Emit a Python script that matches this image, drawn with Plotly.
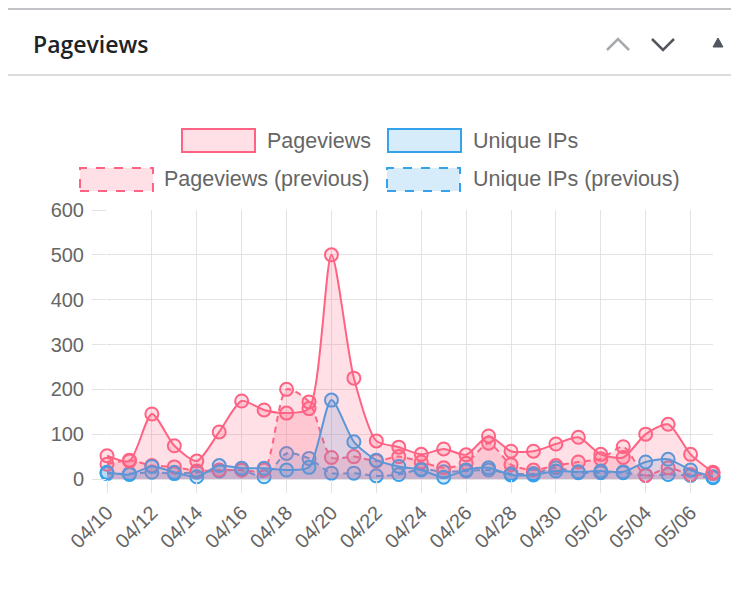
import plotly.graph_objects as go

# ---------------- data ----------------
dates = ["04/10", "04/11", "04/12", "04/13", "04/14", "04/15", "04/16", "04/17",
         "04/18", "04/19", "04/20", "04/21", "04/22", "04/23", "04/24", "04/25",
         "04/26", "04/27", "04/28", "04/29", "04/30", "05/01", "05/02", "05/03",
         "05/04", "05/05", "05/06", "05/07"]
pageviews = [52, 40, 145, 74, 40, 105, 174, 154, 147, 157, 500, 225, 85, 71,
             55, 67, 54, 96, 62, 62, 78, 93, 55, 48, 100, 122, 55, 15]
unique_ips = [15, 10, 28, 15, 5, 30, 24, 24, 20, 26, 176, 83, 42, 28,
              20, 4, 20, 25, 9, 9, 18, 16, 18, 16, 38, 44, 20, 5]
pageviews_prev = [33, 42, 30, 27, 18, 20, 20, 20, 200, 172, 48, 50, 40, 50,
                  38, 25, 35, 80, 32, 20, 30, 38, 45, 72, 8, 25, 10, 12]
unique_ips_prev = [12, 12, 15, 12, 15, 18, 20, 5, 57, 46, 13, 13, 7, 10,
                   22, 16, 18, 20, 12, 12, 25, 14, 14, 14, 8, 10, 8, 3]
series_names = ["Pageviews", "Unique IPs", "Pageviews (previous)", "Unique IPs (previous)"]
y_ticks = [0, 100, 200, 300, 400, 500, 600]
title = "Pageviews"

PINK = "rgb(255,99,132)"
PINK_F = "rgba(255,99,132,0.2)"
BLUE = "rgb(54,162,235)"
BLUE_F = "rgba(54,162,235,0.2)"
FONT = "Liberation Sans, Arial, sans-serif"

# the page body has an 8px margin; work in page pixels and convert
OFF = 8
W, H = 739 - OFF, 596 - OFF
L, R, T, B = 107 - OFF, 713 - OFF, 210 - OFF, 479 - OFF


def px(x):
    return (x - OFF - L) / (R - L)


def py(y):
    return (B - (y - OFF)) / (B - T)


fig = go.Figure()

specs = [
    (series_names[3], unique_ips_prev, BLUE, BLUE_F, "6px,5px"),
    (series_names[2], pageviews_prev, PINK, PINK_F, "6px,5px"),
    (series_names[1], unique_ips, BLUE, BLUE_F, "solid"),
    (series_names[0], pageviews, PINK, PINK_F, "solid"),
]
for name, vals, col, fcol, dash in specs:
    fig.add_trace(go.Scatter(
        x=dates, y=vals, name=name, mode="lines+markers",
        line=dict(color=col, width=2, dash=dash, shape="spline", smoothing=0.7),
        fill="tozeroy", fillcolor=fcol,
        marker=dict(symbol="circle", size=13, color=fcol, line=dict(color=col, width=2)),
        cliponaxis=False, showlegend=False,
    ))

# ---------------- legend (drawn manually) ----------------
shapes = []
annotations = []
legend_items = [
    (series_names[0], 182, 129, PINK, PINK_F, "solid", 265),
    (series_names[1], 388, 129, BLUE, BLUE_F, "solid", 471),
    (series_names[2], 80, 168, PINK, PINK_F, "dash", 162),
    (series_names[3], 387, 168, BLUE, BLUE_F, "dash", 471),
]
for name, bx, by, col, fcol, dash, tx in legend_items:
    shapes.append(dict(type="rect", xref="paper", yref="paper",
                       x0=px(bx), x1=px(bx + 73), y0=py(by + 23), y1=py(by),
                       line=dict(color=col, width=2, dash=dash), fillcolor=fcol, layer="above"))
    annotations.append(dict(text=name, xref="paper", yref="paper", x=px(tx), y=py(by + 11.5),
                            xanchor="left", yanchor="middle", showarrow=False,
                            font=dict(family=FONT, size=21.5, color="#666666")))

# ---------------- widget header ----------------
shapes.append(dict(type="line", xref="paper", yref="paper", x0=px(7), x1=px(745),
                   y0=py(9), y1=py(9), line=dict(color="#c3c4c7", width=2)))
shapes.append(dict(type="line", xref="paper", yref="paper", x0=px(7), x1=px(745),
                   y0=py(75), y1=py(75), line=dict(color="#dcdcde", width=2)))


def path(points, close=False):
    s = "M " + " L ".join(f"{px(a):.5f},{py(b):.5f}" for a, b in points)
    return s + (" Z" if close else "")


shapes.append(dict(type="path", xref="paper", yref="paper",
                   path=path([(607, 50), (618, 39), (629, 50)]),
                   line=dict(color="#a7aaad", width=2.5)))
shapes.append(dict(type="path", xref="paper", yref="paper",
                   path=path([(652, 39), (663, 50), (674, 39)]),
                   line=dict(color="#50575e", width=2.5)))
shapes.append(dict(type="path", xref="paper", yref="paper",
                   path=path([(713, 47), (718, 38), (723, 47)], close=True),
                   line=dict(color="#50575e", width=1), fillcolor="#50575e"))

annotations.append(dict(text=title, xref="paper", yref="paper",
                        x=px(31), y=py(44), xanchor="left", yanchor="middle", showarrow=False,
                        font=dict(family="Open Sans, Noto Sans, sans-serif", size=23,
                                  weight=600, color="#1d2327")))

fig.update_layout(
    width=W, height=H,
    margin=dict(l=L, r=W - R, t=T, b=H - B, autoexpand=False),
    paper_bgcolor="white", plot_bgcolor="white",
    shapes=shapes, annotations=annotations,
    showlegend=False,
    font=dict(family=FONT, size=20, color="#666666"),
)
fig.update_xaxes(
    type="category", range=[0, len(dates) - 1],
    tickvals=dates[::2], ticktext=dates[::2], tickangle=-45,
    showgrid=True, gridcolor="#e3e3e3", gridwidth=1,
    ticks="outside", ticklen=13, tickcolor="#e3e3e3",
    showline=False, zeroline=False,
    tickfont=dict(family=FONT, size=20, color="#666666"),
)
fig.update_yaxes(
    range=[0, 600], tickvals=y_ticks,
    showgrid=True, gridcolor="#e3e3e3", gridwidth=1,
    ticks="outside", ticklen=14, tickcolor="#e3e3e3",
    ticklabelstandoff=4,
    showline=False, zeroline=True, zerolinecolor="#e3e3e3", zerolinewidth=1,
    tickfont=dict(family=FONT, size=20, color="#666666"),
)

fig.write_html("out.html")
